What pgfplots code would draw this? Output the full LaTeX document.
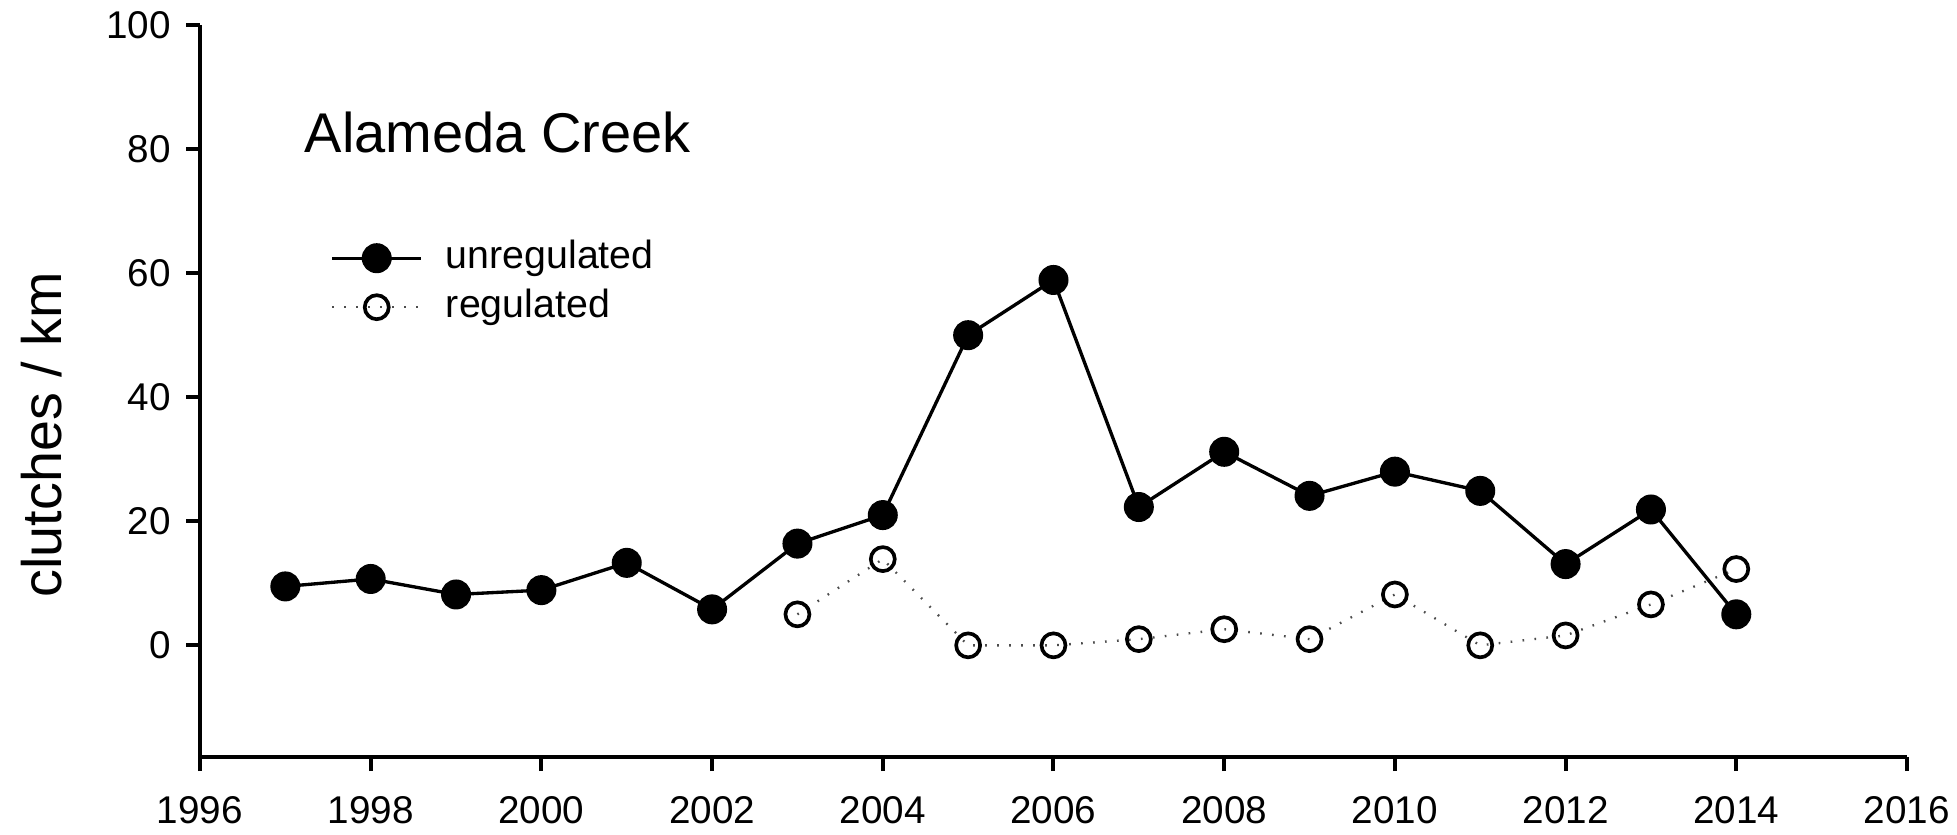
\documentclass[border=0pt]{standalone}
\usepackage{pgfplots}
\pgfplotsset{compat=1.18}
\usepackage{fontspec}
\setmainfont{Liberation Sans}

\pgfplotstableread{
year  clutches
1997  9.5
1998  10.7
1999  8.2
2000  8.9
2001  13.3
2002  5.8
2003  16.4
2004  21.0
2005  50.0
2006  58.9
2007  22.3
2008  31.2
2009  24.1
2010  28.0
2011  24.9
2012  13.1
2013  21.9
2014  5.0
}\unregulated

\pgfplotstableread{
year  clutches
2003  5.0
2004  13.9
2005  0.0
2006  0.0
2007  1.0
2008  2.6
2009  1.0
2010  8.2
2011  0.0
2012  1.6
2013  6.6
2014  12.3
}\regulated

\begin{document}
\begin{tikzpicture}
\begin{axis}[
  scale only axis,
  width=512.1pt, height=219.6pt,
  xmin=1996, xmax=2016, ymin=-18, ymax=100,
  axis lines*=left,
  axis line style={-, line width=1.2pt},
  xtick={1996,1998,...,2016},
  xticklabels={1996,1998,2000,2002,2004,2006,2008,2010,2012,2014,2016},
  ytick={0,20,...,100},
  yticklabels={0,20,40,60,80,100},
  minor tick num=0,
  tick align=outside,
  major tick length=4.2pt,
  every tick/.style={black, line width=1.2pt},
  xticklabel style={font=\fontsize{11.6}{13}\selectfont, yshift=-4pt},
  yticklabel style={font=\fontsize{11.6}{13}\selectfont, xshift=-1pt},
  ylabel={clutches / km},
  ylabel style={at={(axis description cs:-0.0926,0.44)}, anchor=center, inner sep=0pt,
                font=\fontsize{16.7}{19}\selectfont},
  clip=false,
  legend style={
    at={(axis cs:1997.53,58.46)}, anchor=west,
    draw=none, fill=none, inner sep=0pt, outer sep=0pt,
    row sep=2.7pt, column sep=6.9pt,
    font=\fontsize{11.8}{13}\selectfont,
    nodes={inner sep=0pt, text height=9pt, text depth=3pt},
  },
  legend cell align=left,
  legend image code/.code={
    \draw[mark repeat=2, mark phase=2]
      plot coordinates {(0pt,0pt) (13.35pt,0pt) (26.7pt,0pt)};
  },
]
\addplot[black, line width=1pt, mark=*, mark size=4pt,
         mark options={solid, fill=black}]
  table[x=year, y=clutches] {\unregulated};
\addlegendentry{unregulated}

\addplot[black!70, line width=0.7pt, dash pattern=on 0.5pt off 3.1pt,
         mark=o, mark size=3.6pt,
         mark options={solid, draw=black, fill=white, line width=1.1pt}]
  table[x=year, y=clutches] {\regulated};
\addlegendentry{regulated}

\node[anchor=base west, inner sep=0pt, font=\fontsize{16.8}{19}\selectfont]
  at (axis cs:1997.22,79.5) {Alameda Creek};
\end{axis}
% page margins around the axis box
\pgfresetboundingbox
\path (-60pt,-23.1pt) rectangle (527.1pt,227.1pt);
\end{tikzpicture}
\end{document}
